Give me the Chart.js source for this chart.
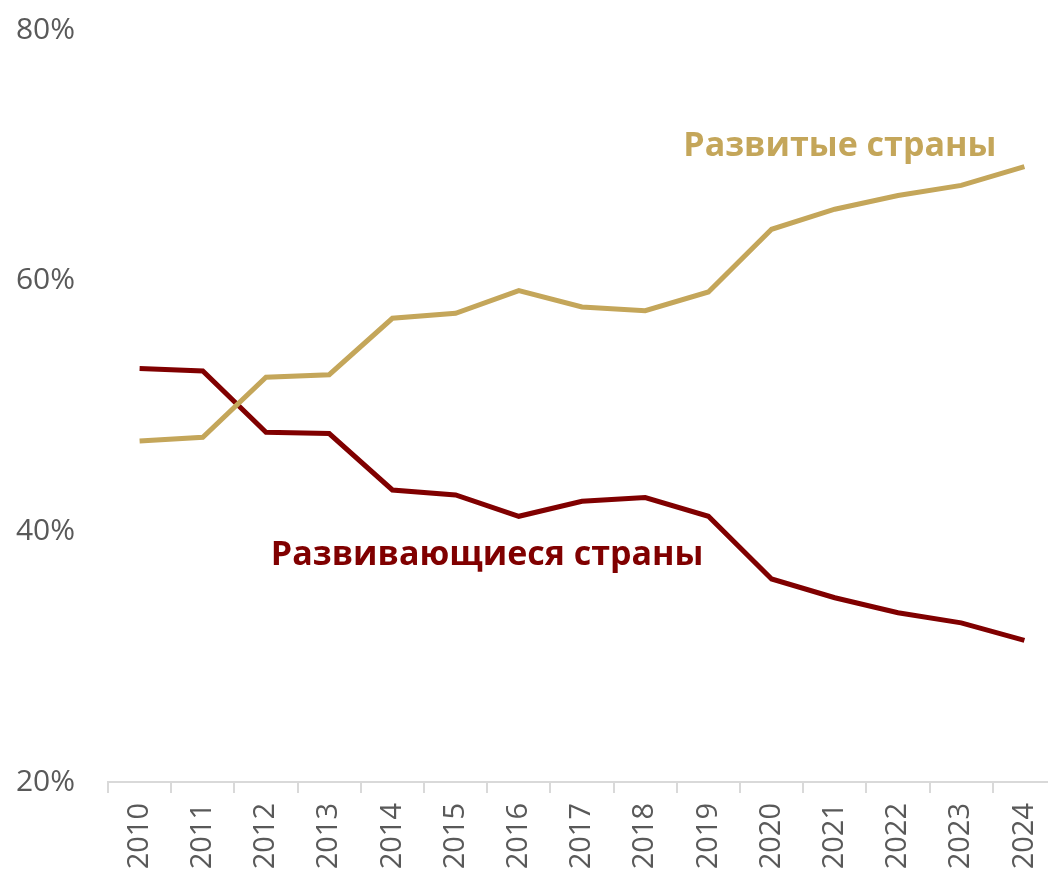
<!DOCTYPE html>
<html>
<head>
<meta charset="utf-8">
<script src="https://cdn.jsdelivr.net/npm/chart.js@4"></script>
<style>
  html, body { margin: 0; padding: 0; background: #fff; overflow: hidden; }
  #wrap { width: 1056px; height: 880px; }
</style>
</head>
<body>
<div id="wrap"><canvas id="chart" width="1056" height="880"></canvas></div>
<script>
/* ─── data ─── */
const years = ['2010', '2011', '2012', '2013', '2014', '2015', '2016', '2017',
               '2018', '2019', '2020', '2021', '2022', '2023', '2024'];
const developed  = [47.2, 47.5, 52.3, 52.5, 57.0, 57.4, 59.2, 57.9, 57.6, 59.1, 64.1, 65.7, 66.8, 67.6, 69.1];
const developing = [53.0, 52.8, 47.9, 47.8, 43.3, 42.9, 41.2, 42.4, 42.7, 41.2, 36.2, 34.7, 33.5, 32.7, 31.3];
const seriesNames = ['Развитые страны', 'Развивающиеся страны'];
const yTicks = [20, 40, 60, 80];

(function () {
  'use strict';

  const COLORS = {
    gold: '#C4A65A',
    red:  '#800000',
    tick: '#595959',
    axis: '#D9D9D9',
  };
  const FONT = "'Open Sans', 'Noto Sans', sans-serif";

  /* ── series labels placed in data coordinates ── */
  const seriesLabelPlugin = {
    id: 'seriesLabels',
    afterDatasetsDraw(chart, args, opts) {
      const { ctx, scales: { x, y } } = chart;
      ctx.save();
      ctx.font = 'bold 34px ' + FONT;
      ctx.textAlign = 'center';
      ctx.textBaseline = 'middle';
      opts.items.forEach(function (it) {
        ctx.fillStyle = it.color;
        ctx.fillText(it.text, x.getPixelForValue(it.at[0]), y.getPixelForValue(it.at[1]));
      });
      ctx.restore();
    },
  };

  new Chart(document.getElementById('chart'), {
    type: 'line',
    data: {
      labels: years,
      datasets: [
        {
          label: seriesNames[0],
          data: developed,
          borderColor: COLORS.gold,
          borderWidth: 5,
          pointRadius: 0,
          tension: 0,
        },
        {
          label: seriesNames[1],
          data: developing,
          borderColor: COLORS.red,
          borderWidth: 5,
          pointRadius: 0,
          tension: 0,
        },
      ],
    },
    options: {
      responsive: false,
      animation: false,
      layout: { padding: { top: 30, right: 0, left: 0, bottom: 0 } },
      scales: {
        x: {
          offset: true,
          grid: {
            offset: true,
            drawOnChartArea: false,
            color: COLORS.axis,
            tickLength: 11,
            lineWidth: 2,
          },
          border: { color: COLORS.axis, width: 2 },
          ticks: {
            color: COLORS.tick,
            font: { family: FONT, size: 29 },
            minRotation: 90,
            maxRotation: 90,
            padding: 10,
            autoSkip: false,
          },
          afterFit(scale) {
            scale.height = 98;
            scale.paddingLeft = 0;
            scale.paddingRight = 0;
            scale.paddingTop = 0;
            scale.paddingBottom = 0;
          },
        },
        y: {
          min: 20,
          max: 80,
          grid: { display: false, drawTicks: false },
          border: { display: false },
          afterBuildTicks(scale) {
            scale.ticks = yTicks.map(function (v) { return { value: v }; });
          },
          ticks: {
            color: COLORS.tick,
            font: { family: FONT, size: 30 },
            padding: 33,
            callback: function (v) { return v + '%'; },
          },
          afterFit(scale) {
            scale.width = 108;
            scale.paddingTop = 0;
            scale.paddingBottom = 0;
          },
        },
      },
      plugins: {
        legend: { display: false },
        tooltip: { enabled: false },
        seriesLabels: {
          items: [
            { text: seriesNames[0], color: COLORS.gold, at: [11.08, 70.7] },
            { text: seriesNames[1], color: COLORS.red,  at: [5.5, 38.1] },
          ],
        },
      },
    },
    plugins: [seriesLabelPlugin],
  });
})();
</script>
</body>
</html>
